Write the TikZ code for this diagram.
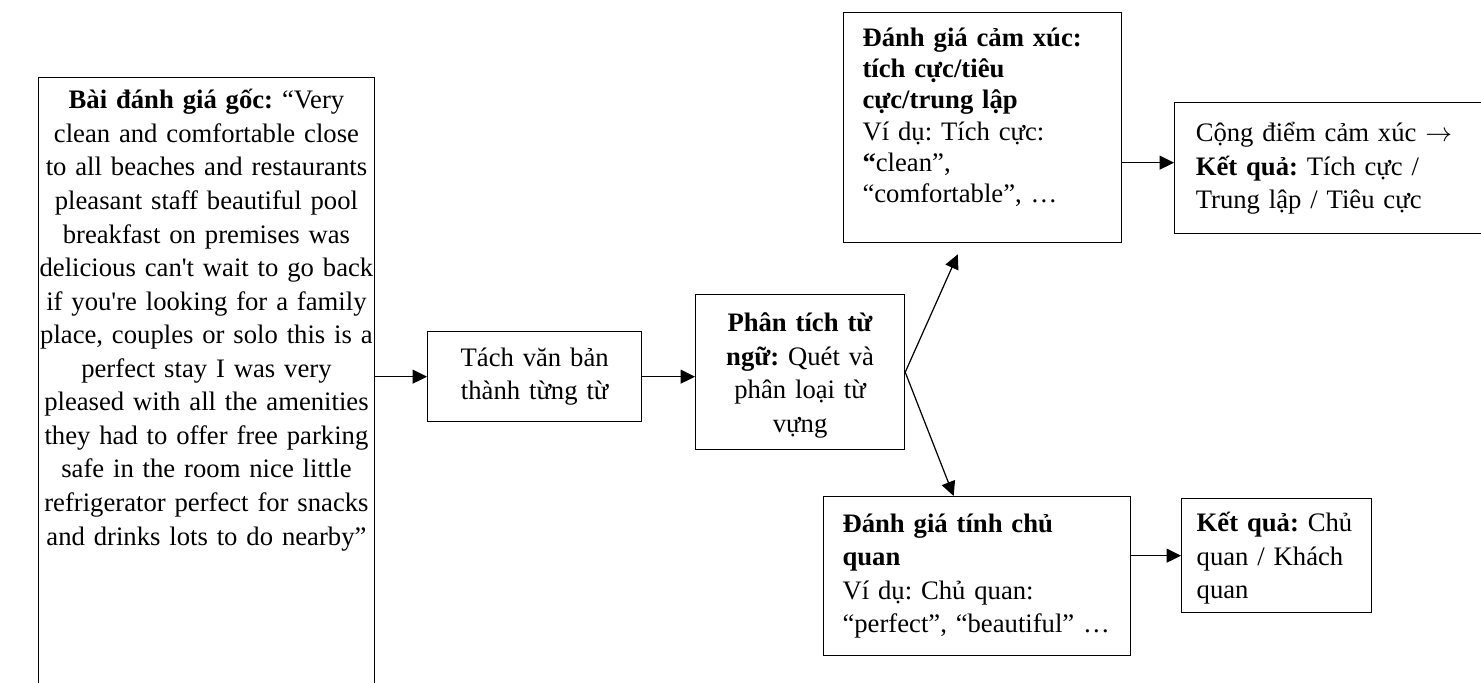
\documentclass[tikz,border=0pt]{standalone}
\usepackage{fontspec}
\setmainfont{Liberation Serif}
\usetikzlibrary{arrows.meta}
\frenchspacing

\begin{document}
\begin{tikzpicture}[x=0.45pt, y=-0.45pt,
    proc/.style={draw, line width=0.6pt, rectangle, anchor=north west,
        inner xsep=8.5pt, inner ysep=0pt, font=\fontsize{12}{15.1}\selectfont},
    flow/.style={-{Triangle[length=6.5pt, width=6.3pt]}, line width=0.55pt}]
                \useasboundingbox (0,0) rectangle (1481,683);

                % INPUT
                \node[proc, align=center, inner xsep=0pt, text width=151pt,
                      text height=14pt, text depth=266pt] (goc) at (38,77)
                    {\textbf{Bài đánh giá gốc:} “Very\\
                     clean and comfortable close\\
                     to all beaches and restaurants\\
                     pleasant staff beautiful pool\\
                     breakfast on premises was\\
                     delicious can\textquotesingle t wait to go back\\
                     if you\textquotesingle re looking for a family\\
                     place, couples or solo this is a\\
                     perfect stay I was very\\
                     pleased with all the amenities\\
                     they had to offer free parking\\
                     safe in the room nice little\\
                     refrigerator perfect for snacks\\
                     and drinks lots to do nearby”};

                % STEPS
                \node[proc, align=center, text width=79.3pt, minimum height=40.5pt] (tach) at (427,331)
                    {Tách văn bản\\thành từng từ};
                \node[proc, align=center, text width=77pt, text height=16.7pt, text depth=53.1pt] (phan) at (695,294)
                    {\textbf{Phân tích từ}\\\textbf{ngữ:} Quét và\\phân loại từ\\vựng};

                % BRANCHES
                \node[proc, align=left, text width=108.1pt, text height=15.3pt, text depth=88.2pt,
                      font=\fontsize{12}{14}\selectfont] (camxuc) at (843,12)
                    {\textbf{Đánh giá cảm xúc:}\\
                     \textbf{tích cực/tiêu}\\
                     \textbf{cực/trung lập}\\
                     Ví dụ: Tích cực:\\
                     \textbf{“}clean”,\\
                     “comfortable”, …};
                \node[proc, align=left, text width=121.2pt, minimum height=71.6pt] (chuquan) at (823,496)
                    {\textbf{Đánh giá tính chủ}\\
                     \textbf{quan}\\
                     Ví dụ: Chủ quan:\\
                     “perfect”, “beautiful” …};

                % RESULTS
                \node[proc, align=left, inner xsep=9.5pt, text width=125.5pt, minimum height=59pt] (kqcx) at (1174,102)
                    {Cộng điểm cảm xúc $\rightarrow$\\
                     \textbf{Kết quả:} Tích cực /\\
                     Trung lập / Tiêu cực};
                \node[proc, align=left, inner xsep=6.75pt, text width=72pt, text height=14.9pt, text depth=36.4pt] (kqcq) at (1181,498)
                    {\textbf{Kết quả:} Chủ\\
                     quan / Khách\\
                     quan};

                % ARROWS
                \draw[flow] (goc.east |- tach.west) -- (tach.west);
                \draw[flow] (tach.east) -- (tach.east -| phan.west);
                \draw[flow, shorten >=5.4pt] (phan.east) -- ([xshift=-9pt]camxuc.south);
                \draw[flow] (phan.east) -- ([xshift=-10.6pt]chuquan.north);
                \draw[flow] ([yshift=2.5pt]kqcx.west -| camxuc.east) -- ([yshift=2.5pt]kqcx.west);
                \draw[flow] (chuquan.east |- kqcq.west) -- (kqcq.west);

            \end{tikzpicture}
\end{document}
